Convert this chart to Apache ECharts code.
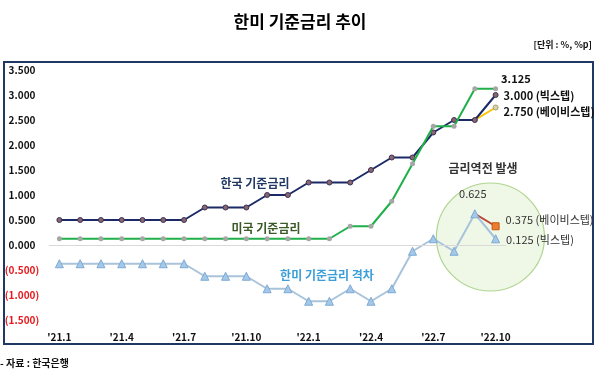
<!DOCTYPE html>
<html><head><meta charset="utf-8">
<script src="https://cdn.jsdelivr.net/npm/echarts@6/dist/echarts.min.js"></script>
<style>html,body{margin:0;padding:0;background:#fff}#c{width:600px;height:371px}</style>
</head><body><div id="c"></div>
<script>
const months = ["'21.1","'21.2","'21.3","'21.4","'21.5","'21.6","'21.7","'21.8","'21.9","'21.10","'21.11","'21.12",
                "'22.1","'22.2","'22.3","'22.4","'22.5","'22.6","'22.7","'22.8","'22.9","'22.10"];
const korea     = [0.5,0.5,0.5,0.5,0.5,0.5,0.5,0.75,0.75,0.75,1.0,1.0,1.25,1.25,1.25,1.5,1.75,1.75,2.25,2.5,2.5,3.0];
const koreaBaby = [null,null,null,null,null,null,null,null,null,null,null,null,null,null,null,null,null,null,null,null,2.5,2.75];
const us        = [0.125,0.125,0.125,0.125,0.125,0.125,0.125,0.125,0.125,0.125,0.125,0.125,0.125,0.125,0.375,0.375,0.875,1.625,2.375,2.375,3.125,3.125];
const gap       = [-0.375,-0.375,-0.375,-0.375,-0.375,-0.375,-0.375,-0.625,-0.625,-0.625,-0.875,-0.875,-1.125,-1.125,-0.875,-1.125,-0.875,-0.125,0.125,-0.125,0.625,0.125];
const gapBaby   = [null,null,null,null,null,null,null,null,null,null,null,null,null,null,null,null,null,null,null,null,0.625,0.375];
const yTicks = {min:-1.5, max:3.5, interval:0.5};

const FONT = '"Noto Sans CJK KR", "Noto Sans", sans-serif';
const last = months.length - 1;

function withLabel(arr, idx, label) {
  return arr.map((v, i) => i === idx ? {value: v, label: Object.assign({show: true}, label)} : v);
}
function hideStart(arr) {
  const i = arr.findIndex(v => v !== null && typeof v !== 'object');
  const out = arr.slice();
  if (i >= 0) out[i] = {value: arr[i], symbol: 'none'};
  return out;
}

const koreaData = withLabel(korea, last, {position:'right', distance:5, offset:[0,1],
  formatter: p => p.value.toFixed(3) + ' (빅스텝)', fontFamily:FONT, fontWeight:'bold', fontSize:11, color:'#111'});
const koreaBabyData = hideStart(withLabel(koreaBaby, last, {position:'right', distance:5, offset:[0,4],
  formatter: p => p.value.toFixed(3) + ' (베이비스텝)', fontFamily:FONT, fontWeight:'bold', fontSize:11, color:'#111'}));
const usData = withLabel(us, last, {position:'right', distance:3, offset:[0,-10],
  formatter: p => p.value.toFixed(3), fontFamily:FONT, fontWeight:'bold', fontSize:11, color:'#111'});
let gapData = withLabel(gap, last, {position:'right', distance:6, offset:[0,1],
  formatter: p => p.value.toFixed(3) + ' (빅스텝)', fontFamily:FONT, fontSize:11, color:'#333'});
gapData[last - 1] = {value: gap[last - 1], label: {show:true, position:'top', distance:10, offset:[-2,0],
  formatter: p => p.value.toFixed(3), fontFamily:FONT, fontSize:11, color:'#333'}};
const gapBabyData = hideStart(withLabel(gapBaby, last, {position:'right', distance:6, offset:[0,-6],
  formatter: p => p.value.toFixed(3) + ' (베이비스텝)', fontFamily:FONT, fontSize:11, color:'#333'}));

const chart = echarts.init(document.getElementById('c'));
const option = {
  animation: false,
  backgroundColor: '#fff',
  title: {text: '한미 기준금리 추이', left: 'center', top: 8,
    textStyle: {fontFamily: FONT, fontSize: 17, fontWeight: 'bold', color: '#000'}},
  grid: {left: 49, right: 94, top: 70, bottom: 51},
  xAxis: {type: 'category', data: months, boundaryGap: true,
    axisLine: {show: false}, axisTick: {show: false},
    axisLabel: {interval: 2, margin: 12, fontFamily: FONT, fontSize: 10, fontWeight: 'bold', color: '#111'}},
  yAxis: {type: 'value', min: yTicks.min, max: yTicks.max, interval: yTicks.interval,
    splitLine: {show: false}, axisLine: {show: false}, axisTick: {show: false},
    axisLabel: {align: 'center', margin: 27, fontFamily: FONT, fontSize: 10, fontWeight: 'bold',
      formatter: v => v < 0 ? '{neg|(' + Math.abs(v).toFixed(3) + ')}' : '{pos|' + v.toFixed(3) + '}',
      rich: {neg: {color: '#e8191c', fontFamily: FONT, fontSize: 10, fontWeight: 'bold'},
             pos: {color: '#111', fontFamily: FONT, fontSize: 10, fontWeight: 'bold'}}}},
  series: [
    {name: '한국 기준금리', type: 'line', data: koreaData, z: 4,
      lineStyle: {color: '#1b2a66', width: 2}, symbol: 'circle', symbolSize: 5,
      itemStyle: {color: '#8a6670', borderColor: '#3a3152', borderWidth: 1},
      markLine: {silent: true, symbol: 'none', label: {show: false},
        lineStyle: {color: '#d9d9d9', width: 1, type: 'solid'}, data: [{yAxis: 0}]}},
    {name: '한국 베이비스텝', type: 'line', data: koreaBabyData, z: 3,
      lineStyle: {color: '#ffc000', width: 2}, symbol: 'circle', symbolSize: 5,
      itemStyle: {color: '#d8d3a8', borderColor: '#a8a070', borderWidth: 1}},
    {name: '미국 기준금리', type: 'line', data: usData, z: 5,
      lineStyle: {color: '#1fb04a', width: 2}, symbol: 'circle', symbolSize: 5,
      itemStyle: {color: '#a6a6a6', borderWidth: 0}},
    {name: '한미 기준금리 격차', type: 'line', data: gapData, z: 4,
      lineStyle: {color: '#a9c3da', width: 2}, symbol: 'triangle', symbolSize: 8,
      itemStyle: {color: '#a4c8e8', borderColor: '#7eaad4', borderWidth: 1}},
    {name: '격차 베이비스텝', type: 'line', data: gapBabyData, z: 3,
      lineStyle: {color: '#b8412f', width: 2}, symbol: 'rect', symbolSize: 7,
      itemStyle: {color: '#ed7d31', borderColor: '#c55a11', borderWidth: 1}}
  ]
};
chart.setOption(option);

const p20 = chart.convertToPixel({xAxisIndex: 0, yAxisIndex: 0}, [20, 0.16]);
const p21 = chart.convertToPixel({xAxisIndex: 0, yAxisIndex: 0}, [21, 0.16]);
const step = p21[0] - p20[0];
const cx = p20[0] + 0.75 * step;
const cy = p20[1];
const r = 2.6 * step;

chart.setOption({graphic: [
  {type: 'rect', z: 0, shape: {x: 4, y: 62, width: 589, height: 282},
    style: {fill: 'none', stroke: '#1f3864', lineWidth: 2}},
  {type: 'circle', z: 1, shape: {cx: cx, cy: cy, r: r},
    style: {fill: 'rgba(214,236,196,0.4)', stroke: '#b0d590', lineWidth: 1.2}},
  {type: 'text', z: 10, x: 592, y: 45, style: {text: '[단위 : %, %p]', textAlign: 'right', textVerticalAlign: 'middle',
    font: 'bold 9px ' + FONT, fill: '#111'}},
  {type: 'text', z: 10, x: 255, y: 183, style: {text: '한국 기준금리', textAlign: 'center', textVerticalAlign: 'middle',
    font: 'bold 12px ' + FONT, fill: '#203864'}},
  {type: 'text', z: 10, x: 266, y: 228, style: {text: '미국 기준금리', textAlign: 'center', textVerticalAlign: 'middle',
    font: 'bold 12px ' + FONT, fill: '#3a5a28'}},
  {type: 'text', z: 10, x: 327, y: 275, style: {text: '한미 기준금리 격차', textAlign: 'center', textVerticalAlign: 'middle',
    font: 'bold 12px ' + FONT, fill: '#3a9ed8'}},
  {type: 'text', z: 10, x: 483, y: 168, style: {text: '금리역전 발생', textAlign: 'center', textVerticalAlign: 'middle',
    font: 'bold 12px ' + FONT, fill: '#333'}},
  {type: 'text', z: 10, x: 0, y: 363, style: {text: '- 자료 : 한국은행', textAlign: 'left', textVerticalAlign: 'middle',
    font: 'bold 10px ' + FONT, fill: '#111'}}
]});
</script></body></html>
